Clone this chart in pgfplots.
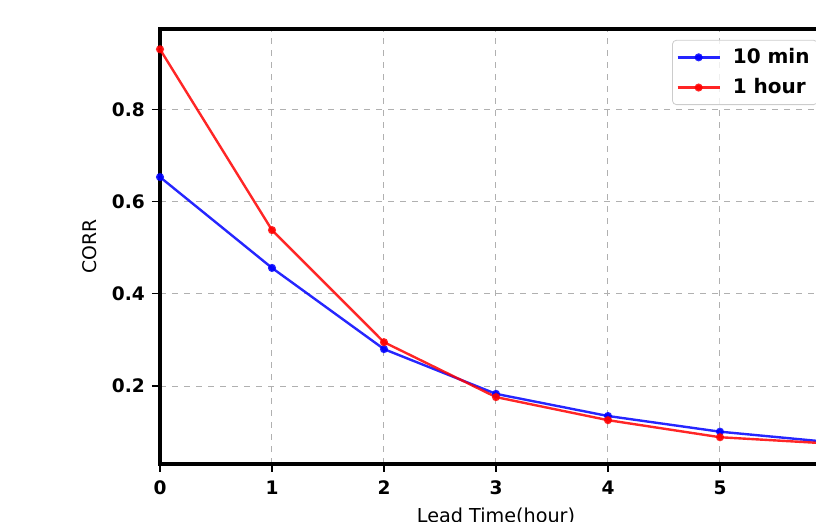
\documentclass[border=0pt]{standalone}
\usepackage{pgfplots}
\pgfplotsset{compat=1.18}
\usepackage{fontspec}
\setmainfont{DejaVu Sans}
\definecolor{gridgray}{RGB}{176,176,176}
\definecolor{legframe}{RGB}{204,204,204}

\begin{document}
\begin{tikzpicture}
% the reference is cut off on the right; keep the same frame
\clip (0pt,0pt) rectangle (408pt,261pt);
\useasboundingbox (0pt,0pt) rectangle (408pt,261pt);
\begin{axis}[
    at={(80pt,29pt)}, anchor=south west,
    scale only axis,
    width=336pt, height=217.5pt,
    xmin=0, xmax=6,
    ymin=0.031, ymax=0.974,
    xtick={0,1,2,3,4,5},
    xticklabels={0,1,2,3,4,5},
    ytick={0.2,0.4,0.6,0.8},
    yticklabels={0.2,0.4,0.6,0.8},
    xtick pos=bottom, ytick pos=left,
    tick align=outside,
    major tick length=4pt,
    tick style={black, line width=0.6pt},
    axis line style={line width=1.6pt},
    grid=major,
    major grid style={gridgray, dashed, line width=0.5pt},
    ticklabel style={font=\bfseries\fontsize{9.3}{11}\selectfont},
    xticklabel style={yshift=-1pt},
    xlabel={Lead Time(hour)},
    ylabel={CORR},
    xlabel style={at={(axis description cs:0.5,0)}, anchor=base, yshift=-29.5pt,
        font=\fontsize{9.6}{11}\selectfont},
    ylabel style={at={(axis description cs:-0.105,0.5)}, anchor=center,
        font=\fontsize{9.4}{11}\selectfont},
    legend style={at={(axis description cs:0.762,0.975)}, anchor=north west,
        draw=legframe, rounded corners=2pt, fill=white, fill opacity=0.8,
        text opacity=1, font=\bfseries\fontsize{10}{12}\selectfont,
        row sep=2pt, inner sep=2pt,
        /tikz/every odd column/.append style={column sep=4pt}},
    legend cell align=left,
    legend image code/.code={%
        \draw[mark repeat=2, mark phase=2, #1]
            plot coordinates {(0pt,0pt) (10.5pt,0pt) (21pt,0pt)};},
]
    \addplot[color=blue, opacity=0.85, line width=1.2pt, mark=*, mark size=1.4pt]
        coordinates {
        (0, 0.653)
        (1, 0.456)
        (2, 0.280)
        (3, 0.183)
        (4, 0.135)
        (5, 0.101)
        (6, 0.078)
    };
    \addlegendentry{10 min}

    \addplot[color=red, opacity=0.85, line width=1.2pt, mark=*, mark size=1.4pt]
        coordinates {
        (0, 0.930)
        (1, 0.538)
        (2, 0.295)
        (3, 0.176)
        (4, 0.126)
        (5, 0.089)
        (6, 0.075)
    };
    \addlegendentry{1 hour}
\end{axis}
\end{tikzpicture}
\end{document}
